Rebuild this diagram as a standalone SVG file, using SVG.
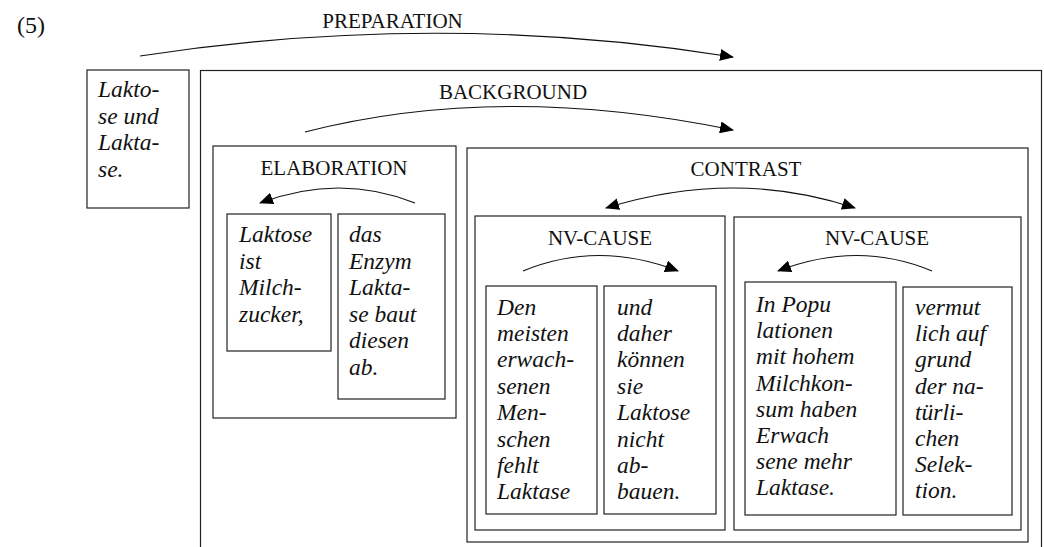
<svg xmlns="http://www.w3.org/2000/svg" width="1044" height="547" viewBox="0 0 1044 547">
<defs>
<style>
.box{fill:none;stroke:#222;stroke-width:1.2}
.lbl{font-family:'Liberation Serif','Times New Roman','DejaVu Serif',serif;font-size:21px;fill:#111;text-anchor:middle}
.txt{font-family:'Liberation Serif','Times New Roman','DejaVu Serif',serif;font-size:23.5px;font-style:italic;fill:#111}
.num{font-family:'Liberation Serif','Times New Roman','DejaVu Serif',serif;font-size:24px;fill:#111}
.arr{fill:none;stroke:#111;stroke-width:1.2}
</style>
<marker id="ah" viewBox="0 0 14 12" refX="13" refY="6" markerWidth="14" markerHeight="12" markerUnits="userSpaceOnUse" orient="auto-start-reverse">
<path d="M0,0 L14,6 L0,12 Z" fill="#000"/>
</marker>
</defs>
<rect width="1044" height="547" fill="#fff"/>
<text class="num" x="17" y="33">(5)</text>

<g id="n-laktose-laktase">
<rect class="box" x="87" y="70" width="102" height="138"/>
<text class="txt"><tspan x="98" y="97">Lakto-</tspan><tspan x="98" dy="26.5">se und</tspan><tspan x="98" dy="26.5">Lakta-</tspan><tspan x="98" dy="26.5">se.</tspan></text>
</g>

<g id="n-background">
<rect class="box" x="200.5" y="70.5" width="841" height="500"/>
</g>

<g id="n-elaboration">
<rect class="box" x="213" y="146" width="243" height="272"/>
<text class="lbl" x="334" y="175">ELABORATION</text>
</g>

<g id="n-leaf1">
<rect class="box" x="227" y="214" width="104" height="137"/>
<text class="txt"><tspan x="239" y="242">Laktose</tspan><tspan x="239" dy="26.5">ist</tspan><tspan x="239" dy="26.5">Milch-</tspan><tspan x="239" dy="26.5">zucker,</tspan></text>
</g>

<g id="n-leaf2">
<rect class="box" x="338" y="214" width="107" height="185"/>
<text class="txt"><tspan x="349" y="242">das</tspan><tspan x="349" dy="26.5">Enzym</tspan><tspan x="349" dy="26.5">Lakta-</tspan><tspan x="349" dy="26.5">se baut</tspan><tspan x="349" dy="26.5">diesen</tspan><tspan x="349" dy="26.5">ab.</tspan></text>
</g>

<g id="n-contrast">
<rect class="box" x="467" y="148" width="561" height="394"/>
<text class="lbl" x="746" y="176">CONTRAST</text>
</g>

<g id="n-nvcause1">
<rect class="box" x="475" y="216" width="250" height="314"/>
<text class="lbl" x="600" y="245">NV-CAUSE</text>
</g>

<g id="n-leaf3">
<rect class="box" x="486" y="286" width="111" height="228"/>
<text class="txt"><tspan x="497" y="314.5">Den</tspan><tspan x="497" dy="26.4">meisten</tspan><tspan x="497" dy="26.4">erwach-</tspan><tspan x="497" dy="26.4">senen</tspan><tspan x="497" dy="26.4">Men-</tspan><tspan x="497" dy="26.4">schen</tspan><tspan x="497" dy="26.4">fehlt</tspan><tspan x="497" dy="26.4">Laktase</tspan></text>
</g>

<g id="n-leaf4">
<rect class="box" x="604" y="286" width="112" height="228"/>
<text class="txt"><tspan x="617" y="314.5">und</tspan><tspan x="617" dy="26.4">daher</tspan><tspan x="617" dy="26.4">können</tspan><tspan x="617" dy="26.4">sie</tspan><tspan x="617" dy="26.4">Laktose</tspan><tspan x="617" dy="26.4">nicht</tspan><tspan x="617" dy="26.4">ab-</tspan><tspan x="617" dy="26.4">bauen.</tspan></text>
</g>

<g id="n-nvcause2">
<rect class="box" x="734" y="217" width="287" height="313"/>
<text class="lbl" x="877" y="245">NV-CAUSE</text>
</g>

<g id="n-leaf5">
<rect class="box" x="745" y="282" width="151" height="233"/>
<text class="txt"><tspan x="756" y="312">In Popu</tspan><tspan x="756" dy="26.2">lationen</tspan><tspan x="756" dy="26.2">mit hohem</tspan><tspan x="756" dy="26.2">Milchkon-</tspan><tspan x="756" dy="26.2">sum haben</tspan><tspan x="756" dy="26.2">Erwach</tspan><tspan x="756" dy="26.2">sene mehr</tspan><tspan x="756" dy="26.2">Laktase.</tspan></text>
</g>

<g id="n-leaf6">
<rect class="box" x="903" y="287" width="109" height="228"/>
<text class="txt"><tspan x="915" y="315">vermut</tspan><tspan x="915" dy="26.2">lich auf</tspan><tspan x="915" dy="26.2">grund</tspan><tspan x="915" dy="26.2">der na-</tspan><tspan x="915" dy="26.2">türli-</tspan><tspan x="915" dy="26.2">chen</tspan><tspan x="915" dy="26.2">Selek-</tspan><tspan x="915" dy="26.2">tion.</tspan></text>
</g>

<g id="connectors">
<text class="lbl" x="392.5" y="28">PREPARATION</text>
<path class="arr" d="M140,56 Q440,10 733,57" marker-end="url(#ah)"/>
<text class="lbl" x="513" y="99">BACKGROUND</text>
<path class="arr" d="M305,132 Q500,82 733,130" marker-end="url(#ah)"/>
<path class="arr" d="M415,203 Q340,173 260,203" marker-end="url(#ah)"/>
<path class="arr" d="M606,208 Q735,168 855,208" marker-start="url(#ah)" marker-end="url(#ah)"/>
<path class="arr" d="M523,271 Q598,240 678,271" marker-end="url(#ah)"/>
<path class="arr" d="M932,271 Q858,240 778,271" marker-end="url(#ah)"/>
</g>
</svg>
